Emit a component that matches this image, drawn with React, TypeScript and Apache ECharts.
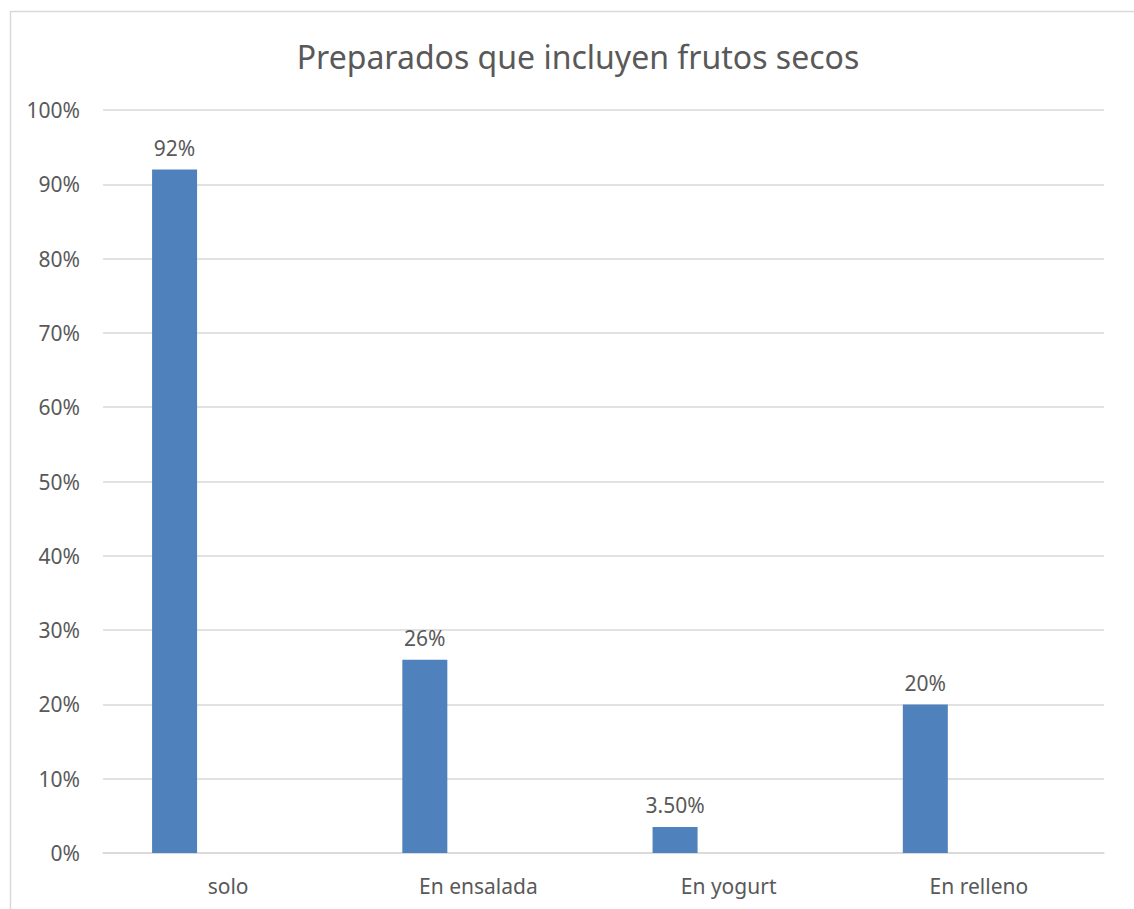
import React, { useEffect, useRef } from "react";
import * as echarts from "echarts";

const categories = ["solo", "En ensalada", "En yogurt", "En relleno"];
const shares = [0.92, 0.26, 0.035, 0.2];
const emptySeries = [null, null, null, null];
const titleText = "Preparados que incluyen frutos secos";

const FONT = "'Noto Sans', 'Liberation Sans', sans-serif";
const TEXT = "#595959";
const GRID = "#d9d9d9";
const BAR = "#4f81bd";

function pct(v: number): string {
  const p = Math.round(v * 10000) / 100;
  return Number.isInteger(p) ? `${p}%` : `${p.toFixed(2)}%`;
}

export default function App() {
  const ref = useRef<HTMLDivElement>(null);

  useEffect(() => {
    if (!ref.current) return;
    const chart = echarts.init(ref.current, null, { renderer: "svg" });
    chart.setOption({
      animation: false,
      backgroundColor: "#ffffff",
      title: {
        text: titleText,
        left: 573,
        top: 35,
        textAlign: "center",
        textStyle: { fontFamily: FONT, fontSize: 32, fontWeight: "normal", color: TEXT },
      },
      graphic: [
        {
          type: "rect",
          shape: { x: 10.5, y: 11.5, width: 1200, height: 1000 },
          style: { fill: "none", stroke: GRID, lineWidth: 1.5 },
          silent: true,
        },
      ],
      grid: { left: 103, right: 30, top: 110, bottom: 56, containLabel: false },
      xAxis: {
        type: "category",
        data: categories,
        axisLine: { show: true, lineStyle: { color: GRID, width: 1.5 } },
        axisTick: { show: false },
        axisLabel: { color: TEXT, fontFamily: FONT, fontSize: 21, margin: 22 },
      },
      yAxis: {
        type: "value",
        min: 0,
        max: 1,
        interval: 0.1,
        axisLine: { show: false },
        axisTick: { show: false },
        splitLine: { lineStyle: { color: GRID, width: 1.5 } },
        axisLabel: {
          color: TEXT,
          fontFamily: FONT,
          fontSize: 21,
          margin: 23,
          formatter: (v: number) => `${Math.round(v * 100)}%`,
        },
      },
      series: [
        {
          type: "bar",
          data: shares,
          barWidth: 45,
          barGap: "138%",
          itemStyle: { color: BAR },
          label: {
            show: true,
            position: "top",
            distance: 11,
            color: TEXT,
            fontFamily: FONT,
            fontSize: 21,
            formatter: (p: any) => pct(p.value as number),
          },
        },
        {
          type: "bar",
          data: emptySeries,
          barWidth: 45,
          itemStyle: { color: BAR },
        },
      ],
    });
    return () => chart.dispose();
  }, []);

  return (
    <div
      ref={ref}
      style={{ position: "fixed", left: 0, top: 0, width: 1134, height: 909 }}
    />
  );
}
